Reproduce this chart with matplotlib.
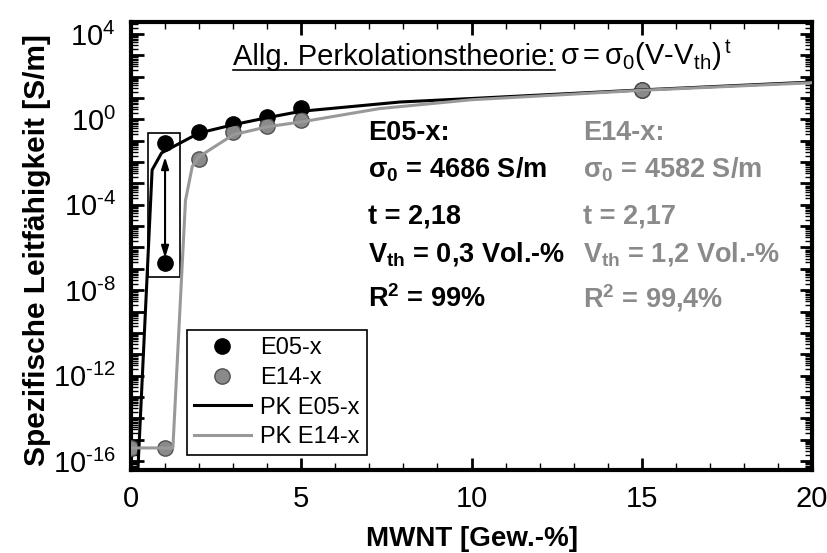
import numpy as np
import matplotlib
matplotlib.use("Agg")
import matplotlib.pyplot as plt
from matplotlib.ticker import LogLocator, FuncFormatter, MultipleLocator, NullFormatter
from matplotlib.patches import Rectangle
from matplotlib.lines import Line2D

plt.rcParams['font.family'] = ['Liberation Sans', 'DejaVu Sans']
plt.rcParams['mathtext.default'] = 'regular'

x_e05 = [0, 1, 1, 2, 3, 4, 5, 15]
sigma_e05 = [4.1e-16, 0.078, 1.86e-7, 0.257, 0.60, 1.29, 3.39, 24.0]
x_e14 = [0, 1, 2, 3, 4, 5, 15]
sigma_e14 = [4.1e-16, 4.1e-16, 0.0141, 0.257, 0.49, 0.93, 24.0]

# Perkolationsfits
pk_e05_x = [0.2, 0.62, 0.9, 1.5, 2, 3, 4, 5, 7.9, 10, 15, 20]
pk_e05_y = [3e-17, 4.3e-3, 0.027, 0.087, 0.23, 0.56, 1.2, 2.4, 6.5, 9.5, 24.0, 56.0]
pk_e14_x = [0, 1.23, 1.6, 1.8, 2, 3, 4, 5, 7.3, 10, 15, 20]
pk_e14_y = [4.1e-16, 4.1e-16, 1.6e-4, 6.3e-3, 0.018, 0.19, 0.45, 0.76, 3.2, 8.3, 23.0, 52.0]

grey = '#8a8a8a'
grey_line = '#999999'

fig = plt.figure(figsize=(8.27, 5.53), dpi=100)
ax = fig.add_axes([131 / 827, 83 / 553, 681 / 827, 448 / 553])

# Punkte
ax.plot(x_e05, sigma_e05, 'o', ms=11, mfc='black', mec='black', label='E05-x', zorder=3)
ax.plot(x_e14, sigma_e14, 'o', ms=11, mfc=grey, mec='#505050', mew=1.0, label='E14-x', zorder=3)
# Fits
ax.plot(pk_e05_x, pk_e05_y, '-', color='black', lw=2.2, label='PK E05-x', zorder=4)
ax.plot(pk_e14_x, pk_e14_y, '-', color=grey_line, lw=2.2, label='PK E14-x', zorder=4)

ax.set_yscale('log')
ax.set_xlim(0, 20)
ax.set_ylim(10 ** -16.42, 10 ** 4.56)

ax.xaxis.set_major_locator(MultipleLocator(5))
ax.xaxis.set_minor_locator(MultipleLocator(1))
ax.yaxis.set_major_locator(LogLocator(base=10, subs=(1.0,), numticks=100))
ax.yaxis.set_minor_locator(LogLocator(base=10, subs=np.arange(2, 10), numticks=100))
ax.yaxis.set_minor_formatter(NullFormatter())


def ylab(v, pos):
    e = int(round(np.log10(v)))
    if e % 4 != 0:
        return ''
    sign = '\u2010' if e < 0 else ''
    return r'$10^{%s%d}$' % (sign, abs(e))


ax.yaxis.set_major_formatter(FuncFormatter(ylab))

ax.tick_params(which='both', direction='in', top=True, right=True, labelsize=21, pad=11)
ax.tick_params(which='major', length=9, width=2)
ax.tick_params(which='minor', length=5, width=1)
for s in ax.spines.values():
    s.set_linewidth(3)

ax.set_xlabel('MWNT [Gew.-%]', fontsize=20, fontweight='bold')
ax.set_ylabel('Spezifische Leitfähigkeit [S/m]', fontsize=21.5, fontweight='bold')
ax.xaxis.set_label_coords(0.5, -0.125)
ax.yaxis.set_label_coords(-0.117, 0.49)

# Rahmen und Doppelpfeil bei 1 Gew.-%
ax.add_patch(Rectangle((0.5, 10 ** -7.38), 0.95, 10 ** -0.64 - 10 ** -7.38,
                       fill=False, ec='black', lw=1.2, zorder=2))
ax.annotate('', xy=(1.0, 10 ** -6.49), xytext=(1.0, 10 ** -1.76),
            arrowprops=dict(arrowstyle='<|-|>,head_length=0.7,head_width=0.22',
                            color='black', lw=1.5, shrinkA=0, shrinkB=0), zorder=5)

leg = ax.legend(loc='lower left', bbox_to_anchor=(0.082, 0.033), fontsize=17,
                frameon=True, fancybox=False, framealpha=1, edgecolor='black',
                handlelength=2.4, handletextpad=0.4, labelspacing=0.32,
                borderpad=0.3, borderaxespad=0)
leg.get_frame().set_linewidth(1.2)


def px(x, y):
    return ((x - 131) / 681, (470 - y) / 448)


# Titel mit Formel
title = ax.text(*px(233, 65), 'Allg. Perkolationstheorie:', fontsize=21,
                va='baseline', transform=ax.transAxes)

# Fit-Parameter
rows_y = [140, 178, 224, 262, 307]
e05_txt = ['E05-x:', r'σ$_0$ = 4686 S/m', 't = 2,18', r'V$_{th}$ = 0,3 Vol.-%', r'R$^2$ = 99%']
e14_txt = ['E14-x:', r'σ$_0$ = 4582 S/m', 't = 2,17', r'V$_{th}$ = 1,2 Vol.-%', r'R$^2$ = 99,4%']
for yy, t1, t2 in zip(rows_y, e05_txt, e14_txt):
    ax.text(*px(368, yy), t1, fontsize=19.5, fontweight='bold', va='baseline',
            transform=ax.transAxes, color='black')
    ax.text(*px(583, yy), t2, fontsize=19.5, fontweight='bold', va='baseline',
            transform=ax.transAxes, color=grey)

# Unterstreichung des Titels, Formel direkt dahinter
fig.canvas.draw()
bb = title.get_window_extent(fig.canvas.get_renderer())
inv = fig.transFigure.inverted()
(x0, y0), (x1, _) = inv.transform([(bb.x0, bb.y0 + 1), (bb.x1, bb.y0 + 1)])
fig.add_artist(Line2D([x0, x1], [y0, y0], color='black', lw=1.2))
fx, fy = inv.transform((bb.x1 + 5, 0))[0], inv.transform(ax.transAxes.transform(px(0, 65)))[1]
fig.text(fx, fy, r'σ$\,$=$\,$σ$_0$(V-V$_{th}$)$^{\,t}$', fontsize=21, va='baseline')

fig.savefig('out.png', dpi=100)
